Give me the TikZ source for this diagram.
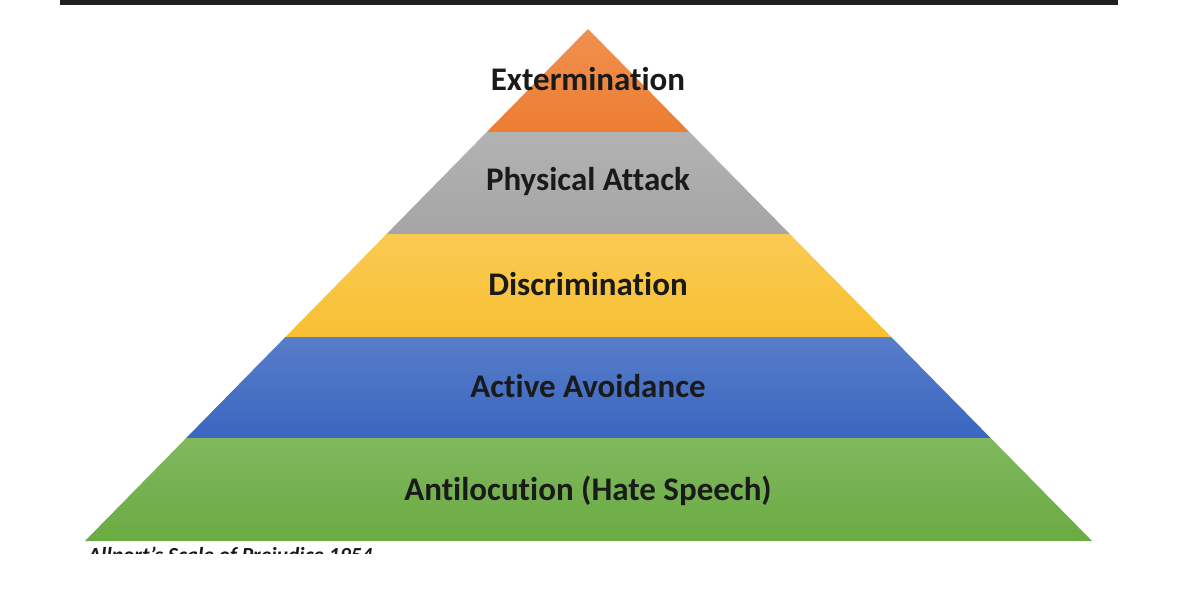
\documentclass[tikz,border=0pt]{standalone}
\usepackage{fontspec}
\setmainfont{Carlito}[Ligatures=NoCommon]
\definecolor{lorange}{HTML}{ED7D31}
\definecolor{lgray}{HTML}{A5A5A5}
\definecolor{lyellow}{HTML}{F8C033}
\definecolor{lblue}{HTML}{3A66C0}
\definecolor{lgreen}{HTML}{6AAB42}
\definecolor{ltext}{HTML}{1A1A1A}
\begin{document}
\begin{tikzpicture}[x=1pt,y=-1pt,
  layer/.style={draw=none},
  lbl/.style={font=\bfseries\fontsize{33}{36}\selectfont, text=ltext, inner sep=0pt, anchor=center}]
\useasboundingbox (0,0) rectangle (1179,600);
\fill[white] (0,0) rectangle (1179,600);
\fill[black!88] (60,0) rectangle (1118,4.5);
% layers
\shade[layer, top color=lorange!85!white, bottom color=lorange] (588,29) -- (689.4,132) -- (486.8,132) -- cycle;
\shade[layer, top color=lgray!85!white, bottom color=lgray] (486.8,132) -- (689.4,132) -- (789.8,234) -- (386.6,234) -- cycle;
\shade[layer, top color=lyellow!85!white, bottom color=lyellow] (386.6,234) -- (789.8,234) -- (891.2,337) -- (285.4,337) -- cycle;
\shade[layer, top color=lblue!85!white, bottom color=lblue] (285.4,337) -- (891.2,337) -- (990.6,438) -- (186.2,438) -- cycle;
\shade[layer, top color=lgreen!85!white, bottom color=lgreen] (186.2,438) -- (990.6,438) -- (1092,541) -- (85,541) -- cycle;
% labels
\node[lbl] (ext) at (588,79) {Extermination};
\node[lbl] (phy) at (588,182) {Physical Attack};
\node[lbl] (dis) at (588,284) {Discrimination};
\node[lbl] (act) at (588,386) {Active Avoidance};
\node[lbl] (ant) at (588,491) {Antilocution (Hate Speech)};
% caption, cut off
\begin{scope}
\clip (0,546.5) rectangle (1179,553);
\node[font=\bfseries\itshape\fontsize{21.5}{24}\selectfont, text=ltext, anchor=north west, inner sep=0pt] (cap) at (88,547) {Allport's Scale of Prejudice 1954};
\end{scope}
\end{tikzpicture}
\end{document}
